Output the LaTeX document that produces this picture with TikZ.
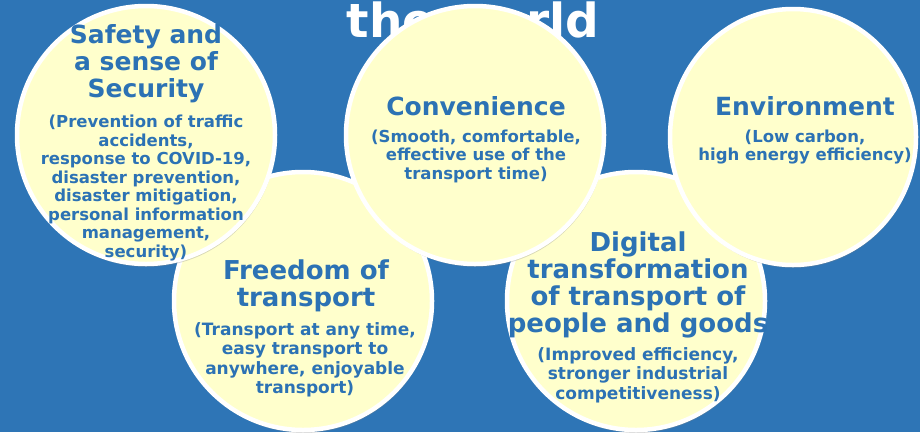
\documentclass[tikz,border=0pt]{standalone}
\usepackage{fontspec}
\setmainfont{DejaVu Sans}
\usetikzlibrary{shapes.geometric,shadows}
\definecolor{bgblue}{RGB}{46,117,182}
\definecolor{txtblue}{RGB}{44,114,180}
\definecolor{cream}{RGB}{255,255,204}
\tikzset{
	bubble/.style={circle,fill=cream,draw=white,line width=4.5pt,minimum size=258pt,inner sep=0pt,
		drop shadow={shadow xshift=1pt,shadow yshift=-3pt,opacity=0.3}},
	head/.style={text=txtblue,font=\bfseries\fontsize{25}{27}\selectfont,align=center,inner sep=0pt},
	sub/.style={text=txtblue,font=\bfseries\fontsize{16.5}{18.5}\selectfont,align=center,inner sep=0pt},
	bhead/.style={head,font=\bfseries\fontsize{26}{27}\selectfont},
	bsub/.style={sub,font=\bfseries\fontsize{17}{19.5}\selectfont}
}
\begin{document}
\begin{tikzpicture}[x=1pt,y=-1pt]
	\fill[bgblue] (0,0) rectangle (920,432);
	\useasboundingbox (0,0) rectangle (920,432);
	\clip (0,0) rectangle (920,432);

	\node [text=white,font=\bfseries\fontsize{47}{47}\selectfont,anchor=base] (title) at (473,37) {the world};

	\node [bubble] (freedom) at (303,301) {};
	\node [bubble] (digital) at (636,301) {};
	\node [bubble] (safety) at (146,135) {};
	\node [bubble] (convenience) at (475,135) {};
	\node [bubble,ellipse,minimum width=246pt,minimum height=256pt] (environment) at (793,137) {};

	\node [head] (safetyH) at (146,64) {Safety and\\a sense of\\Security};
	\node [sub] (safetyS) at (146,188) {(Prevention of traffic\\accidents,\\response to COVID-19,\\disaster prevention,\\disaster mitigation,\\personal information\\management,\\security)};

	\node [head] (convenienceH) at (476,106) {Convenience};
	\node [sub] (convenienceS) at (476,156) {(Smooth, comfortable,\\effective use of the\\transport time)};

	\node [head] (environmentH) at (805,106) {Environment};
	\node [sub] (environmentS) at (805,147) {(Low carbon,\\high energy efficiency)};

	\node [bhead] (freedomH) at (306,286) {Freedom of\\transport};
	\node [bsub] (freedomS) at (305,360) {(Transport at any time,\\easy transport to\\anywhere, enjoyable\\transport)};

	\node [bhead] (digitalH) at (638,285) {Digital\\transformation\\of transport of\\people and goods};
	\node [bsub] (digitalS) at (638,375) {(Improved efficiency,\\stronger industrial\\competitiveness)};
\end{tikzpicture}
\end{document}
